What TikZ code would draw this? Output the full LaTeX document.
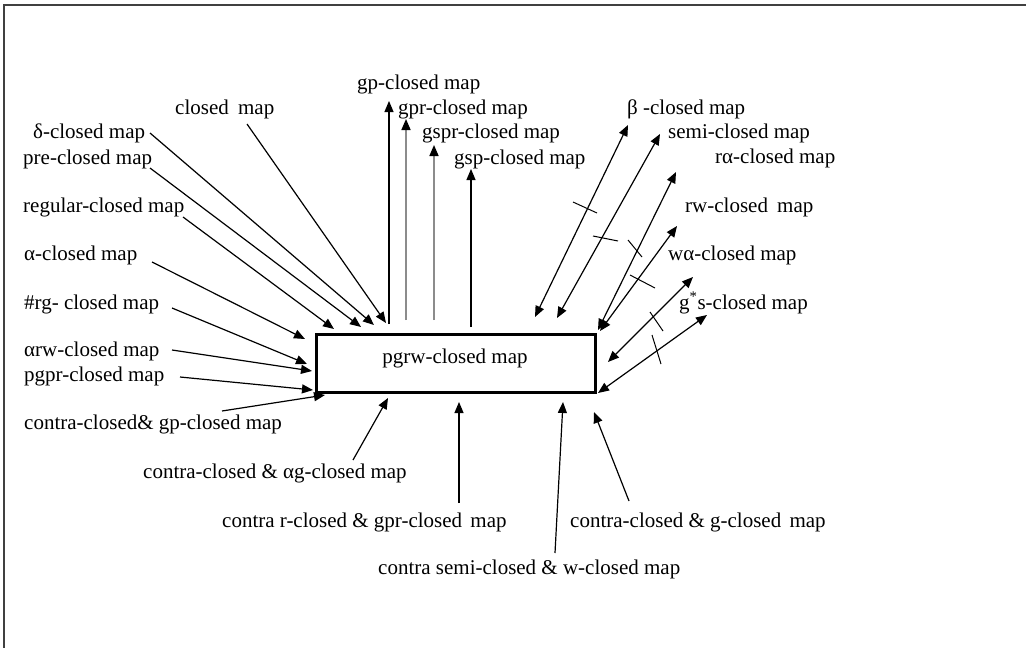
\documentclass[tikz,border=0pt]{standalone}
\usepackage{fontspec}
\setmainfont{Liberation Serif}
\usetikzlibrary{arrows.meta}
\begin{document}
\begin{tikzpicture}[x=1pt,y=-1pt,
  lbl/.style={anchor=west, inner sep=0pt, font=\fontsize{21}{25}\selectfont,
              text height=19pt, text depth=4.5pt},
  tipshape/.tip={Triangle[length=11pt,width=9pt]},
  conn/.style={line width=1.2pt, -tipshape},
  grayconn/.style={line width=1.6pt, draw=black!45,
                   -{Triangle[length=11pt,width=9pt,color=black]}},
  twoway/.style={line width=1.2pt, tipshape-tipshape},
  slash/.style={line width=1pt},
  mainbox/.style={draw, line width=3.5pt, minimum width=279pt,
                  minimum height=58pt, inner sep=0pt},
  frameline/.style={line width=1.5pt, draw=black!75}]

\useasboundingbox (0,0) rectangle (1026,648);
\draw[frameline] (4,648) -- (4,5) -- (1026,5);

% central map
\node[mainbox] (box) at (456,363.5) {};
\node[lbl, anchor=center] (boxtext) at (455,356) {pgrw-closed map};

% labels, left side
\node[lbl] (closed)  at (175,107) {closed\hspace{4pt} map};
\node[lbl] (delta)   at (33,131)  {δ-closed map};
\node[lbl] (pre)     at (23,157)  {pre-closed map};
\node[lbl] (regular) at (23,205)  {regular-closed map};
\node[lbl] (alpha)   at (24,253)  {α-closed map};
\node[lbl] (rgsharp) at (24,302)  {\#rg- closed map};
\node[lbl] (arw)     at (24,349)  {αrw-closed map};
\node[lbl] (pgpr)    at (24,374)  {pgpr-closed map};
\node[lbl] (cgp)     at (24,422)  {contra-closed\& gp-closed map};

% labels, top
\node[lbl] (gp)   at (357,82)  {gp-closed map};
\node[lbl] (gpr)  at (398,107) {gpr-closed map};
\node[lbl] (gspr) at (422,131) {gspr-closed map};
\node[lbl] (gsp)  at (454,157) {gsp-closed map};

% labels, right side
\node[lbl] (beta) at (627,107) {β -closed map};
\node[lbl] (semi) at (668,131) {semi-closed map};
\node[lbl] (ra)   at (715,156) {rα-closed map};
\node[lbl] (rw)   at (685,205) {rw-closed\hspace{4pt} map};
\node[lbl] (wa)   at (668,253) {wα-closed map};
\node[lbl] (gss)  at (679,302) {g\textsuperscript{*}s-closed map};

% labels, bottom
\node[lbl] (cag)  at (143,471) {contra-closed \& αg-closed map};
\node[lbl] (crg)  at (222,520) {contra r-closed \& gpr-closed\hspace{3pt} map};
\node[lbl] (csw)  at (378,567) {contra semi-closed \& w-closed map};
\node[lbl] (cg)   at (570,520) {contra-closed \& g-closed\hspace{3pt} map};

% connector end points
\coordinate (closedA)  at (247,124); \coordinate (closedB)  at (386,323);
\coordinate (deltaA)   at (150,133); \coordinate (deltaB)   at (374,325);
\coordinate (preA)     at (150,168); \coordinate (preB)     at (361,327);
\coordinate (regularA) at (183,217); \coordinate (regularB) at (334,329);
\coordinate (alphaA)   at (152,262); \coordinate (alphaB)   at (305,339);
\coordinate (rgA)      at (172,308); \coordinate (rgB)      at (307,364);
\coordinate (arwA)     at (172,350); \coordinate (arwB)     at (312,371);
\coordinate (pgprA)    at (180,377); \coordinate (pgprB)    at (313,390);
\coordinate (cgpA)     at (222,411); \coordinate (cgpB)     at (325,395);

\coordinate (gpA)   at (389,324); \coordinate (gpB)   at (389,101);
\coordinate (gprA)  at (406,320); \coordinate (gprB)  at (406,119);
\coordinate (gsprA) at (434,320); \coordinate (gsprB) at (434,145);
\coordinate (gspA)  at (471,327); \coordinate (gspB)  at (471,169);

\coordinate (betaA) at (535,317); \coordinate (betaB) at (628,125);
\coordinate (semiA) at (557,318); \coordinate (semiB) at (660,134);
\coordinate (raA)   at (598,330); \coordinate (raB)   at (676,172);
\coordinate (rwA)   at (600,331); \coordinate (rwB)   at (677,226);
\coordinate (waA)   at (608,362); \coordinate (waB)   at (693,277);
\coordinate (gssA)  at (598,393); \coordinate (gssB)  at (707,315);

\coordinate (cagA) at (353,460); \coordinate (cagB) at (388,398);
\coordinate (crgA) at (459,503); \coordinate (crgB) at (459,402);
\coordinate (cswA) at (555,553); \coordinate (cswB) at (563,402);
\coordinate (cgA)  at (629,501); \coordinate (cgB)  at (594,412);

% arrows into the box
\foreach \n in {closed,delta,pre,regular,alpha,rg,arw,pgpr,cgp,cag,crg,csw,cg}
  \draw[conn] (\n A) -- (\n B);

% arrows out of the box, upwards
\draw[conn] (gpA) -- (gpB);
\draw[grayconn] (gprA) -- (gprB);
\draw[grayconn] (gsprA) -- (gsprB);
\draw[conn] (gspA) -- (gspB);

% two-way arrows on the right, each crossed by a slash
\foreach \n in {beta,semi,ra,rw,wa,gss}
  \draw[twoway] (\n A) -- (\n B);

\draw[slash] (573,202) -- (597,213);
\draw[slash] (593,236) -- (618,241);
\draw[slash] (628,240) -- (642,257);
\draw[slash] (630,275) -- (655,288);
\draw[slash] (650,312) -- (663,331);
\draw[slash] (652,335) -- (661,364);
\end{tikzpicture}
\end{document}
